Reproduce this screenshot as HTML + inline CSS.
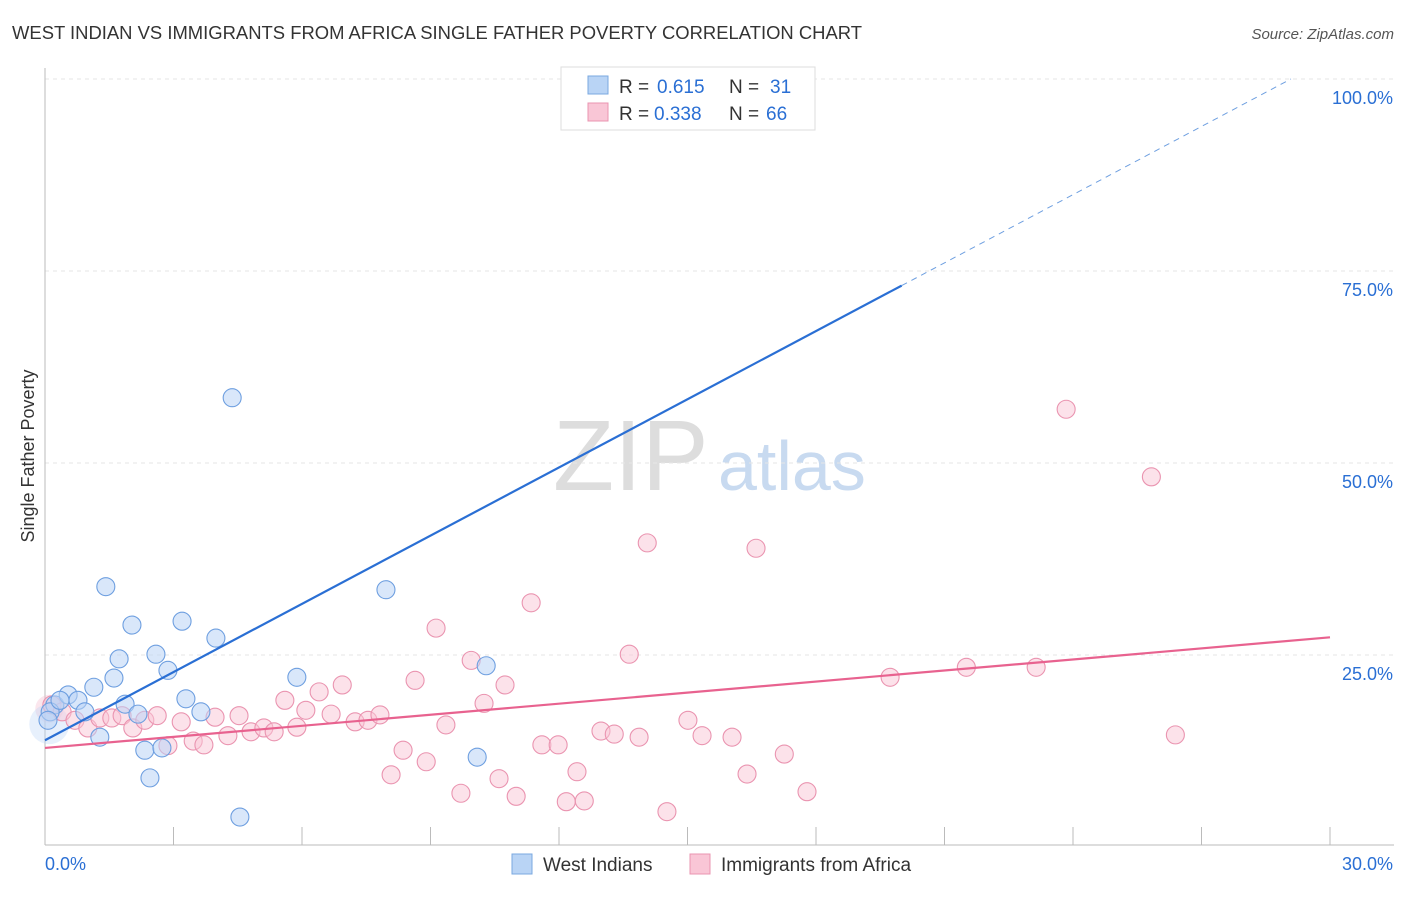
<!DOCTYPE html>
<html><head><meta charset="utf-8"><style>
body{margin:0;background:#fff;font-family:"Liberation Sans",sans-serif;}
svg text{font-family:"Liberation Sans",sans-serif;}
</style></head><body>
<svg id="chart" width="1406" height="892" xmlns="http://www.w3.org/2000/svg">
<text x="12" y="39" font-size="18" fill="#333" textLength="850" lengthAdjust="spacingAndGlyphs">WEST INDIAN VS IMMIGRANTS FROM AFRICA SINGLE FATHER POVERTY CORRELATION CHART</text>
<text x="1394" y="39" font-size="15" fill="#555" font-style="italic" text-anchor="end">Source: ZipAtlas.com</text>
<text x="0" y="0" transform="translate(34,456) rotate(-90)" font-size="18" fill="#333" text-anchor="middle">Single Father Poverty</text>
<g><text x="553" y="490" font-size="100" fill="#ddd" font-family="Liberation Serif">ZIP</text><text x="718" y="490" font-size="70" fill="#c8daf0">atlas</text></g>
<g id="grid"></g><g id="axes"></g><g id="pts"></g><g id="lines"></g>
<g>
<rect x="561" y="67" width="254" height="63" fill="#fff" stroke="#ddd"/>
<rect x="588" y="76" width="20" height="18" fill="#b9d4f5" stroke="#7aa8e0"/>
<rect x="588" y="103" width="20" height="18" fill="#f9c6d6" stroke="#ea94b0"/>
<text font-size="19" fill="#333"><tspan x="619" y="93">R =</tspan><tspan x="657" y="93" fill="#2a6fd4">0.615</tspan><tspan x="729" y="93">N =</tspan><tspan x="770" y="93" fill="#2a6fd4">31</tspan></text>
<text font-size="19" fill="#333"><tspan x="619" y="120">R =</tspan><tspan x="654" y="120" fill="#2a6fd4">0.338</tspan><tspan x="729" y="120">N =</tspan><tspan x="766" y="120" fill="#2a6fd4">66</tspan></text>
</g>
<g>
<rect x="512" y="854" width="20" height="20" fill="#b9d4f5" stroke="#7aa8e0"/>
<text x="543" y="871" font-size="19" fill="#333">West Indians</text>
<rect x="690" y="854" width="20" height="20" fill="#f9c6d6" stroke="#ea94b0"/>
<text x="721" y="871" font-size="19" fill="#333">Immigrants from Africa</text>
</g>
</svg>
<script>
const xTicks=[0,3,6,9,12,15,18,21,24,27,30];
const yTicks=[25,50,75,100];
const blueX=[0.23,0.54,0.77,0.93,1.14,1.28,1.42,1.61,1.73,1.87,2.03,2.17,2.33,2.45,2.59,2.73,2.87,3.20,3.29,3.64,3.99,4.37,4.55,5.88,7.96,10.09,10.30,16.28,0.12,0.35,0.07];
const blueY=[18.5,19.8,19.1,17.6,20.8,14.3,33.9,22.0,24.5,18.6,28.9,17.3,12.6,9.0,25.1,12.9,23.0,29.4,19.3,17.6,27.2,58.5,3.9,22.1,33.5,11.7,23.6,99.9,17.6,19.1,16.5];
const pinkX=[0.16,0.40,0.70,1.00,1.28,1.56,1.80,2.05,2.33,2.62,2.87,3.18,3.46,3.71,3.97,4.27,4.53,4.81,5.11,5.35,5.60,5.88,6.09,6.40,6.68,6.94,7.24,7.54,7.82,8.08,8.36,8.64,8.90,9.13,9.36,9.71,9.95,10.25,10.60,10.74,11.00,11.35,11.60,11.98,12.17,12.42,12.59,12.98,13.29,13.64,13.87,14.06,14.52,15.01,15.34,16.04,16.39,16.60,17.26,17.79,19.73,21.51,23.14,23.84,25.83,26.39];
const pinkY=[18.5,17.6,16.5,15.5,16.8,16.8,17.1,15.5,16.5,17.1,13.2,16.3,13.8,13.3,16.9,14.5,17.1,15.0,15.5,15.0,19.1,15.6,17.8,20.2,17.3,21.1,16.3,16.5,17.2,9.4,12.6,21.7,11.1,28.5,15.9,7.0,24.3,18.7,8.9,21.1,6.6,31.8,13.3,13.3,5.9,9.8,6.0,15.1,14.7,25.1,14.3,39.6,4.6,16.5,14.5,14.3,9.5,38.9,12.1,7.2,22.1,23.4,23.4,57.0,48.2,14.6];
const blueTrend=[13.9,2.96];
const pinkTrend=[12.9,0.48];
const X=v=>45+v/30*1285, Y=v=>847-v/100*768;
const NS="http://www.w3.org/2000/svg";
function mk(t,a,p){const e=document.createElementNS(NS,t);for(const k in a)e.setAttribute(k,a[k]);p.appendChild(e);return e;}
const grid=document.getElementById('grid'),axes=document.getElementById('axes'),pts=document.getElementById('pts'),lines=document.getElementById('lines');
yTicks.forEach(t=>{const l=mk('line',{x1:45,x2:1394,y1:Y(t),y2:Y(t),stroke:'#e6e6e6','stroke-dasharray':'4,4'},grid);


const tx=mk('text',{x:1393,y:Y(t)+25,'font-size':18,fill:'#2a6fd4','text-anchor':'end'},axes);tx.textContent=t.toFixed(1)+'%';

});
const ax=mk('line',{x1:45,x2:1394,y1:845,y2:845,stroke:'#bbb'},axes);


const ay=mk('line',{x1:45,x2:45,y1:68,y2:845,stroke:'#bbb'},axes);


xTicks.forEach(t=>{const l=mk('line',{x1:X(t),x2:X(t),y1:827,y2:845,stroke:'#bbb'},axes);

});
[[0,'start',45],[30,'end',1393]].forEach(([t,a,x])=>{const tx=mk('text',{x:x,y:870,'font-size':18,fill:'#2a6fd4','text-anchor':a},axes);tx.textContent=t.toFixed(1)+'%';

});
[[0.1,18,14,'#f3b8cc'],[0.1,16,20,'#b9d4f5']].forEach(([x,y,r,c])=>{const e=mk('circle',{cx:X(x),cy:Y(y),r:r,fill:c,'fill-opacity':0.35},pts);

});
pinkX.forEach((x,i)=>{const c=mk('circle',{cx:X(x),cy:Y(pinkY[i]),r:9,fill:'#f9c6d6','fill-opacity':0.5,stroke:'#ea94b0','stroke-width':1.1},pts);

});
blueX.forEach((x,i)=>{const c=mk('circle',{cx:X(x),cy:Y(blueY[i]),r:9,fill:'#b9d4f5','fill-opacity':0.55,stroke:'#6e9fe0','stroke-width':1.1},pts);

});
const bx=(100-blueTrend[0])/blueTrend[1];
const b1=mk('line',{x1:X(0),y1:Y(blueTrend[0]),x2:X(20),y2:Y(blueTrend[0]+blueTrend[1]*20),stroke:'#2a6fd4','stroke-width':2.2},lines);


const b2=mk('line',{x1:X(20),y1:Y(blueTrend[0]+blueTrend[1]*20),x2:X(bx),y2:Y(100),stroke:'#6e9fe0','stroke-width':1,'stroke-dasharray':'6,5'},lines);


const p1=mk('line',{x1:X(0),y1:Y(pinkTrend[0]),x2:X(30),y2:Y(pinkTrend[0]+pinkTrend[1]*30),stroke:'#e8628f','stroke-width':2.2},lines);


</script>
</body></html>
